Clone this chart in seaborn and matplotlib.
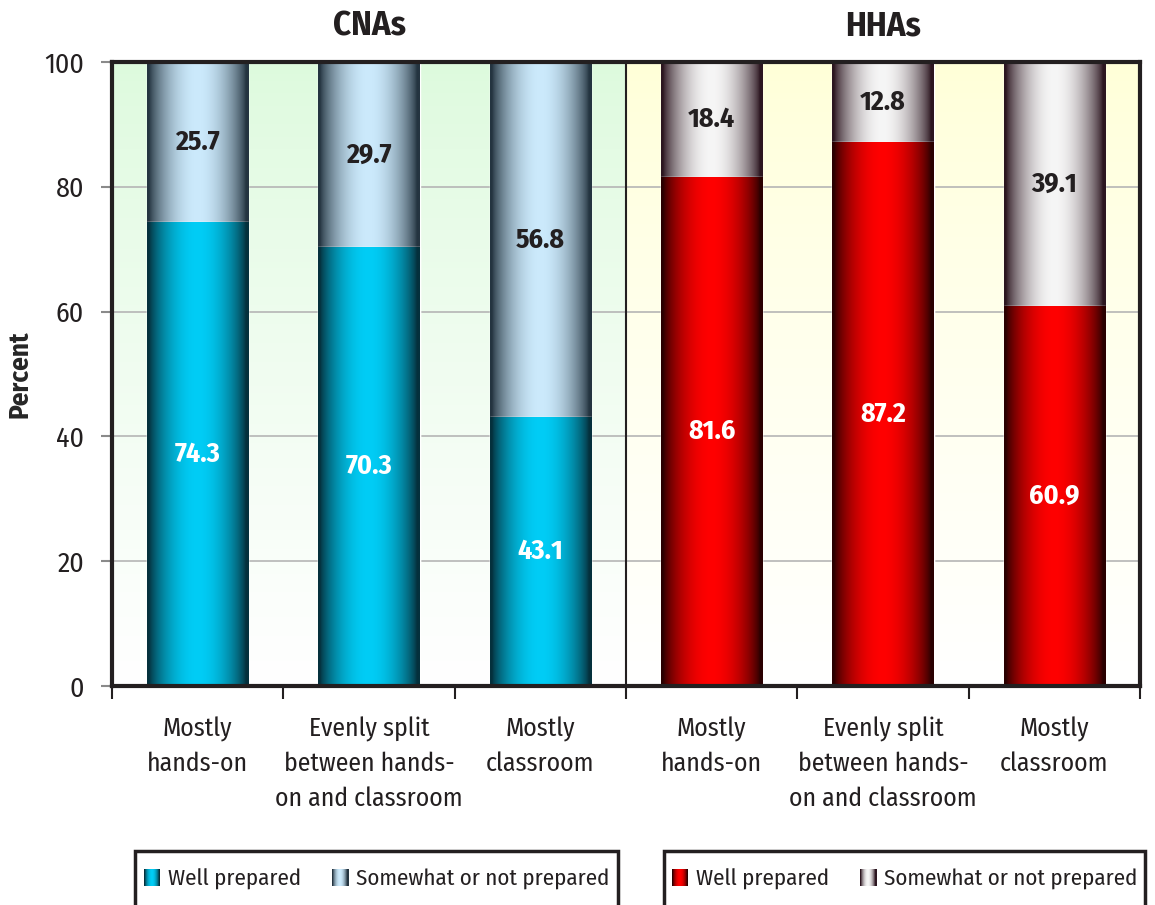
import matplotlib
matplotlib.use("Agg")
import matplotlib.pyplot as plt
import matplotlib.colors as mcolors
import matplotlib.transforms as mtransforms
from matplotlib import font_manager as fm
from matplotlib.patches import Rectangle
from matplotlib.legend_handler import HandlerBase
import numpy as np
import pandas as pd
import seaborn as sns

# data
groups = ["CNAs", "CNAs", "CNAs", "HHAs", "HHAs", "HHAs"]
categories = ["Mostly\nhands-on", "Evenly split\nbetween hands-\non and classroom", "Mostly\nclassroom",
              "Mostly\nhands-on", "Evenly split\nbetween hands-\non and classroom", "Mostly\nclassroom"]
well_prepared = [74.3, 70.3, 43.1, 81.6, 87.2, 60.9]
not_prepared = [25.7, 29.7, 56.8, 18.4, 12.8, 39.1]
yticks = [0, 20, 40, 60, 80, 100]

# gradient colours (edge, centre)
grad = {
    ("CNAs", "well"): ("#05303c", "#00cdf6"),
    ("CNAs", "not"): ("#243440", "#cceafc"),
    ("HHAs", "well"): ("#2a0000", "#ff0000"),
    ("HHAs", "not"): ("#2c1620", "#f6f6f6"),
}
bg_top = {"CNAs": "#ddfadd", "HHAs": "#ffffd8"}
dark = "#231f20"

# a condensed face close to the original, if one is around
installed = {f.name for f in fm.fontManager.ttflist}
narrow = ["Liberation Sans Narrow", "Fira Sans Condensed", "PT Sans Narrow", "Roboto Condensed",
          "Archivo Narrow", "Asap Condensed", "Encode Sans Condensed", "Open Sans Condensed"]
found = [f for f in narrow if f in installed]
if found:
    family, k = found[0], 1.0
else:
    family, k = "Liberation Sans", 0.82

sns.set_style("white")
plt.rcParams["font.family"] = [family, "DejaVu Sans"]
plt.rcParams["text.color"] = dark

df = pd.DataFrame({
    "key": [f"{g}|{i}" for i, g in enumerate(groups)],
    "group": groups,
    "well": well_prepared,
    "not": not_prepared,
})
df["total"] = df["well"] + df["not"]


def profile(n=200):
    t = np.linspace(0, 1, n)
    return np.sin(np.pi * np.clip(t * 1.05 - 0.02, 0, 1)) ** 0.75


def grad_img(edge, centre, n=200):
    c0 = np.array(mcolors.to_rgb(edge))
    c1 = np.array(mcolors.to_rgb(centre))
    p = profile(n)[:, None]
    return (c0 + (c1 - c0) * p)[None, :, :]


fig = plt.figure(figsize=(11.55, 9.05), dpi=100)
ax = fig.add_axes([112 / 1155, 1 - 686 / 905, (1140 - 112) / 1155, (686 - 62) / 905])

# background gradients
for g, x0 in (("CNAs", -0.5), ("HHAs", 2.5)):
    c0 = np.array(mcolors.to_rgb(bg_top[g]))
    t = np.linspace(0, 1, 100)[:, None]
    img = (c0 + (1 - c0) * t ** 0.8)[:, None, :]
    ax.imshow(img, extent=(x0, x0 + 3, 0, 100), aspect="auto", zorder=0, origin="upper")

ax.yaxis.grid(True, color="#b5b5b5", lw=1.2)
ax.set_axisbelow(True)

w = 0.59
sns.barplot(data=df, x="key", y="total", color="#888888", width=w, ax=ax, zorder=2)
sns.barplot(data=df, x="key", y="well", color="#00cdf6", width=w, ax=ax, zorder=3)

bars = ax.patches
n = len(df)
for i, bar in enumerate(bars):
    kind = "not" if i < n else "well"
    g = df["group"].iloc[i % n]
    x, y = bar.get_x(), bar.get_y()
    bw, bh = bar.get_width(), bar.get_height()
    im = ax.imshow(grad_img(*grad[(g, kind)]), extent=(x, x + bw, y, y + bh),
                   aspect="auto", zorder=2.5 if kind == "not" else 3.5)
    im.set_clip_path(bar)

# value labels
for i, row in df.iterrows():
    ax.text(i, row["well"] / 2, f"{row['well']:.1f}", ha="center", va="center",
            color="white", fontsize=20 * k, fontweight="bold", zorder=5)
    ax.text(i, row["well"] + row["not"] / 2, f"{row['not']:.1f}", ha="center", va="center",
            color=dark, fontsize=20 * k, fontweight="bold", zorder=5)

ax.set_xlim(-0.5, 5.5)
ax.set_ylim(0, 100)
ax.set_yticks(yticks)
ax.set_yticklabels([str(v) for v in yticks], fontsize=20 * k, color=dark)
ax.tick_params(axis="y", length=8, width=1.5, color="#8a8a8a", pad=12, left=True)
ax.set_ylabel("Percent", fontsize=19.5 * k, fontweight="bold")
ax.yaxis.set_label_coords(-0.077, 0.5)

ax.set_xticks(np.arange(-0.5, 6, 1.0))
ax.set_xticklabels([])
ax.set_xticks(np.arange(6), minor=True)
ax.set_xticklabels(categories, minor=True, fontsize=18.5 * k, color=dark, linespacing=1.5)
ax.tick_params(axis="x", which="major", length=9, width=1.5, color=dark, bottom=True)
ax.tick_params(axis="x", which="minor", length=0, pad=22)
ax.set_xlabel("")

for s in ax.spines.values():
    s.set_visible(True)
    s.set_color(dark)
    s.set_linewidth(3)
    s.set_zorder(6)
ax.axvline(2.5, color=dark, lw=1.5, zorder=6)

tr = mtransforms.blended_transform_factory(ax.transData, ax.transAxes)
ax.text(1, 1.058, "CNAs", transform=tr, ha="center", va="center", fontsize=25 * k, fontweight="bold")
ax.text(4, 1.058, "HHAs", transform=tr, ha="center", va="center", fontsize=25 * k, fontweight="bold")


# legends with gradient swatches
class GradHandler(HandlerBase):
    def __init__(self, edge, centre):
        super().__init__()
        self.edge, self.centre = edge, centre

    def create_artists(self, legend, orig_handle, xdescent, ydescent, width, height, fontsize, trans):
        steps = 16
        size = min(width, height)
        x0 = width - size
        y0 = (height - size) / 2
        p = profile(steps)
        c0 = np.array(mcolors.to_rgb(self.edge))
        c1 = np.array(mcolors.to_rgb(self.centre))
        arts = []
        for j in range(steps):
            col = c0 + (c1 - c0) * p[j]
            arts.append(Rectangle((x0 - xdescent + j * size / steps, y0 - ydescent),
                                  size / steps * 1.05, size, facecolor=col,
                                  edgecolor="none", transform=trans))
        return arts


for g, (bx0, bx1) in (("CNAs", (135, 618)), ("HHAs", (664, 1145))):
    fig.patches.append(Rectangle((bx0 / 1155, -0.01), (bx1 - bx0) / 1155, (905 - 851) / 905 + 0.01,
                                 transform=fig.transFigure, facecolor="white",
                                 edgecolor=dark, lw=2.5, zorder=1))
    h1 = Rectangle((0, 0), 1, 1)
    h2 = Rectangle((0, 0), 1, 1)
    fig.legend([h1, h2], ["Well prepared", "Somewhat or not prepared"],
               loc="center", bbox_to_anchor=((bx0 + bx1) / 2 / 1155, 1 - 879 / 905),
               ncol=2, frameon=False, fontsize=16.5 * k, handlelength=0.75, handleheight=0.75,
               handletextpad=0.35, columnspacing=1.3,
               handler_map={h1: GradHandler(*grad[(g, "well")]),
                            h2: GradHandler(*grad[(g, "not")])})

fig.savefig("out.png", dpi=100)
